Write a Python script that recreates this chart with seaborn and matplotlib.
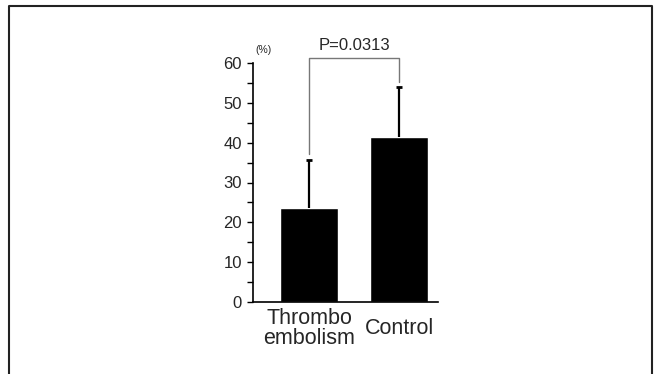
import numpy as np
import pandas as pd
import matplotlib.pyplot as plt
from matplotlib.lines import Line2D
from matplotlib.ticker import MultipleLocator
import seaborn as sns

# 데이터
groups = ["Thrombo\nembolism", "Control"]
means = [23.7, 41.5]
sd_upper = [12.05, 12.6]
p_text = "P=0.0313"

sns.set_style("white")
plt.rcParams['font.family'] = ['Liberation Sans', 'DejaVu Sans']

df = pd.DataFrame({"group": groups, "value": means})

fig = plt.figure(figsize=(6.56, 3.74), dpi=100)
ax = fig.add_axes([253/656, 1-302/374, 185/656, 239/374])

sns.barplot(data=df, x="group", y="value", color="black", saturation=1,
            width=0.644, errorbar=None, ax=ax)
# 위쪽 오차막대만
tops = np.array(means) + np.array(sd_upper)
ax.vlines([0, 1], means, tops, color="black", lw=1.6)
ax.scatter([0, 1], tops, marker="_", s=25, color="black", linewidths=2)

# 유의성 표시
ax.plot([0, 0, 1, 1], [37.25, 61.3, 61.3, 55.3], color="#777777", lw=1.0,
        clip_on=False)
ax.text(0.5, 62.6, p_text, ha="center", va="bottom", fontsize=12)
ax.text(-0.51, 62.0, "(%)", ha="center", va="bottom", fontsize=7.5)

ax.set_ylim(0, 60)
ax.set_xlim(-0.622, 1.433)
ax.yaxis.set_major_locator(MultipleLocator(10))
ax.yaxis.set_minor_locator(MultipleLocator(5))
ax.tick_params(axis="y", which="both", direction="out", length=4, width=1,
               left=True, labelsize=12, pad=4, color="black")
ax.tick_params(axis="x", length=0, labelsize=15.5, pad=19)
for lab in ax.get_xticklabels():
    lab.set_linespacing(0.95)
    lab.set_verticalalignment("center")
ax.set_xlabel("")
ax.set_ylabel("")
sns.despine(ax=ax)
for s in ["left", "bottom"]:
    ax.spines[s].set_color("black")
    ax.spines[s].set_linewidth(1.2)

# 바깥 테두리
fig.add_artist(Line2D([9/656, 9/656, 652/656, 652/656],
                      [0, 1-6/374, 1-6/374, 0], color="#222222", lw=1.5))

fig.savefig("out.png", dpi=100)
